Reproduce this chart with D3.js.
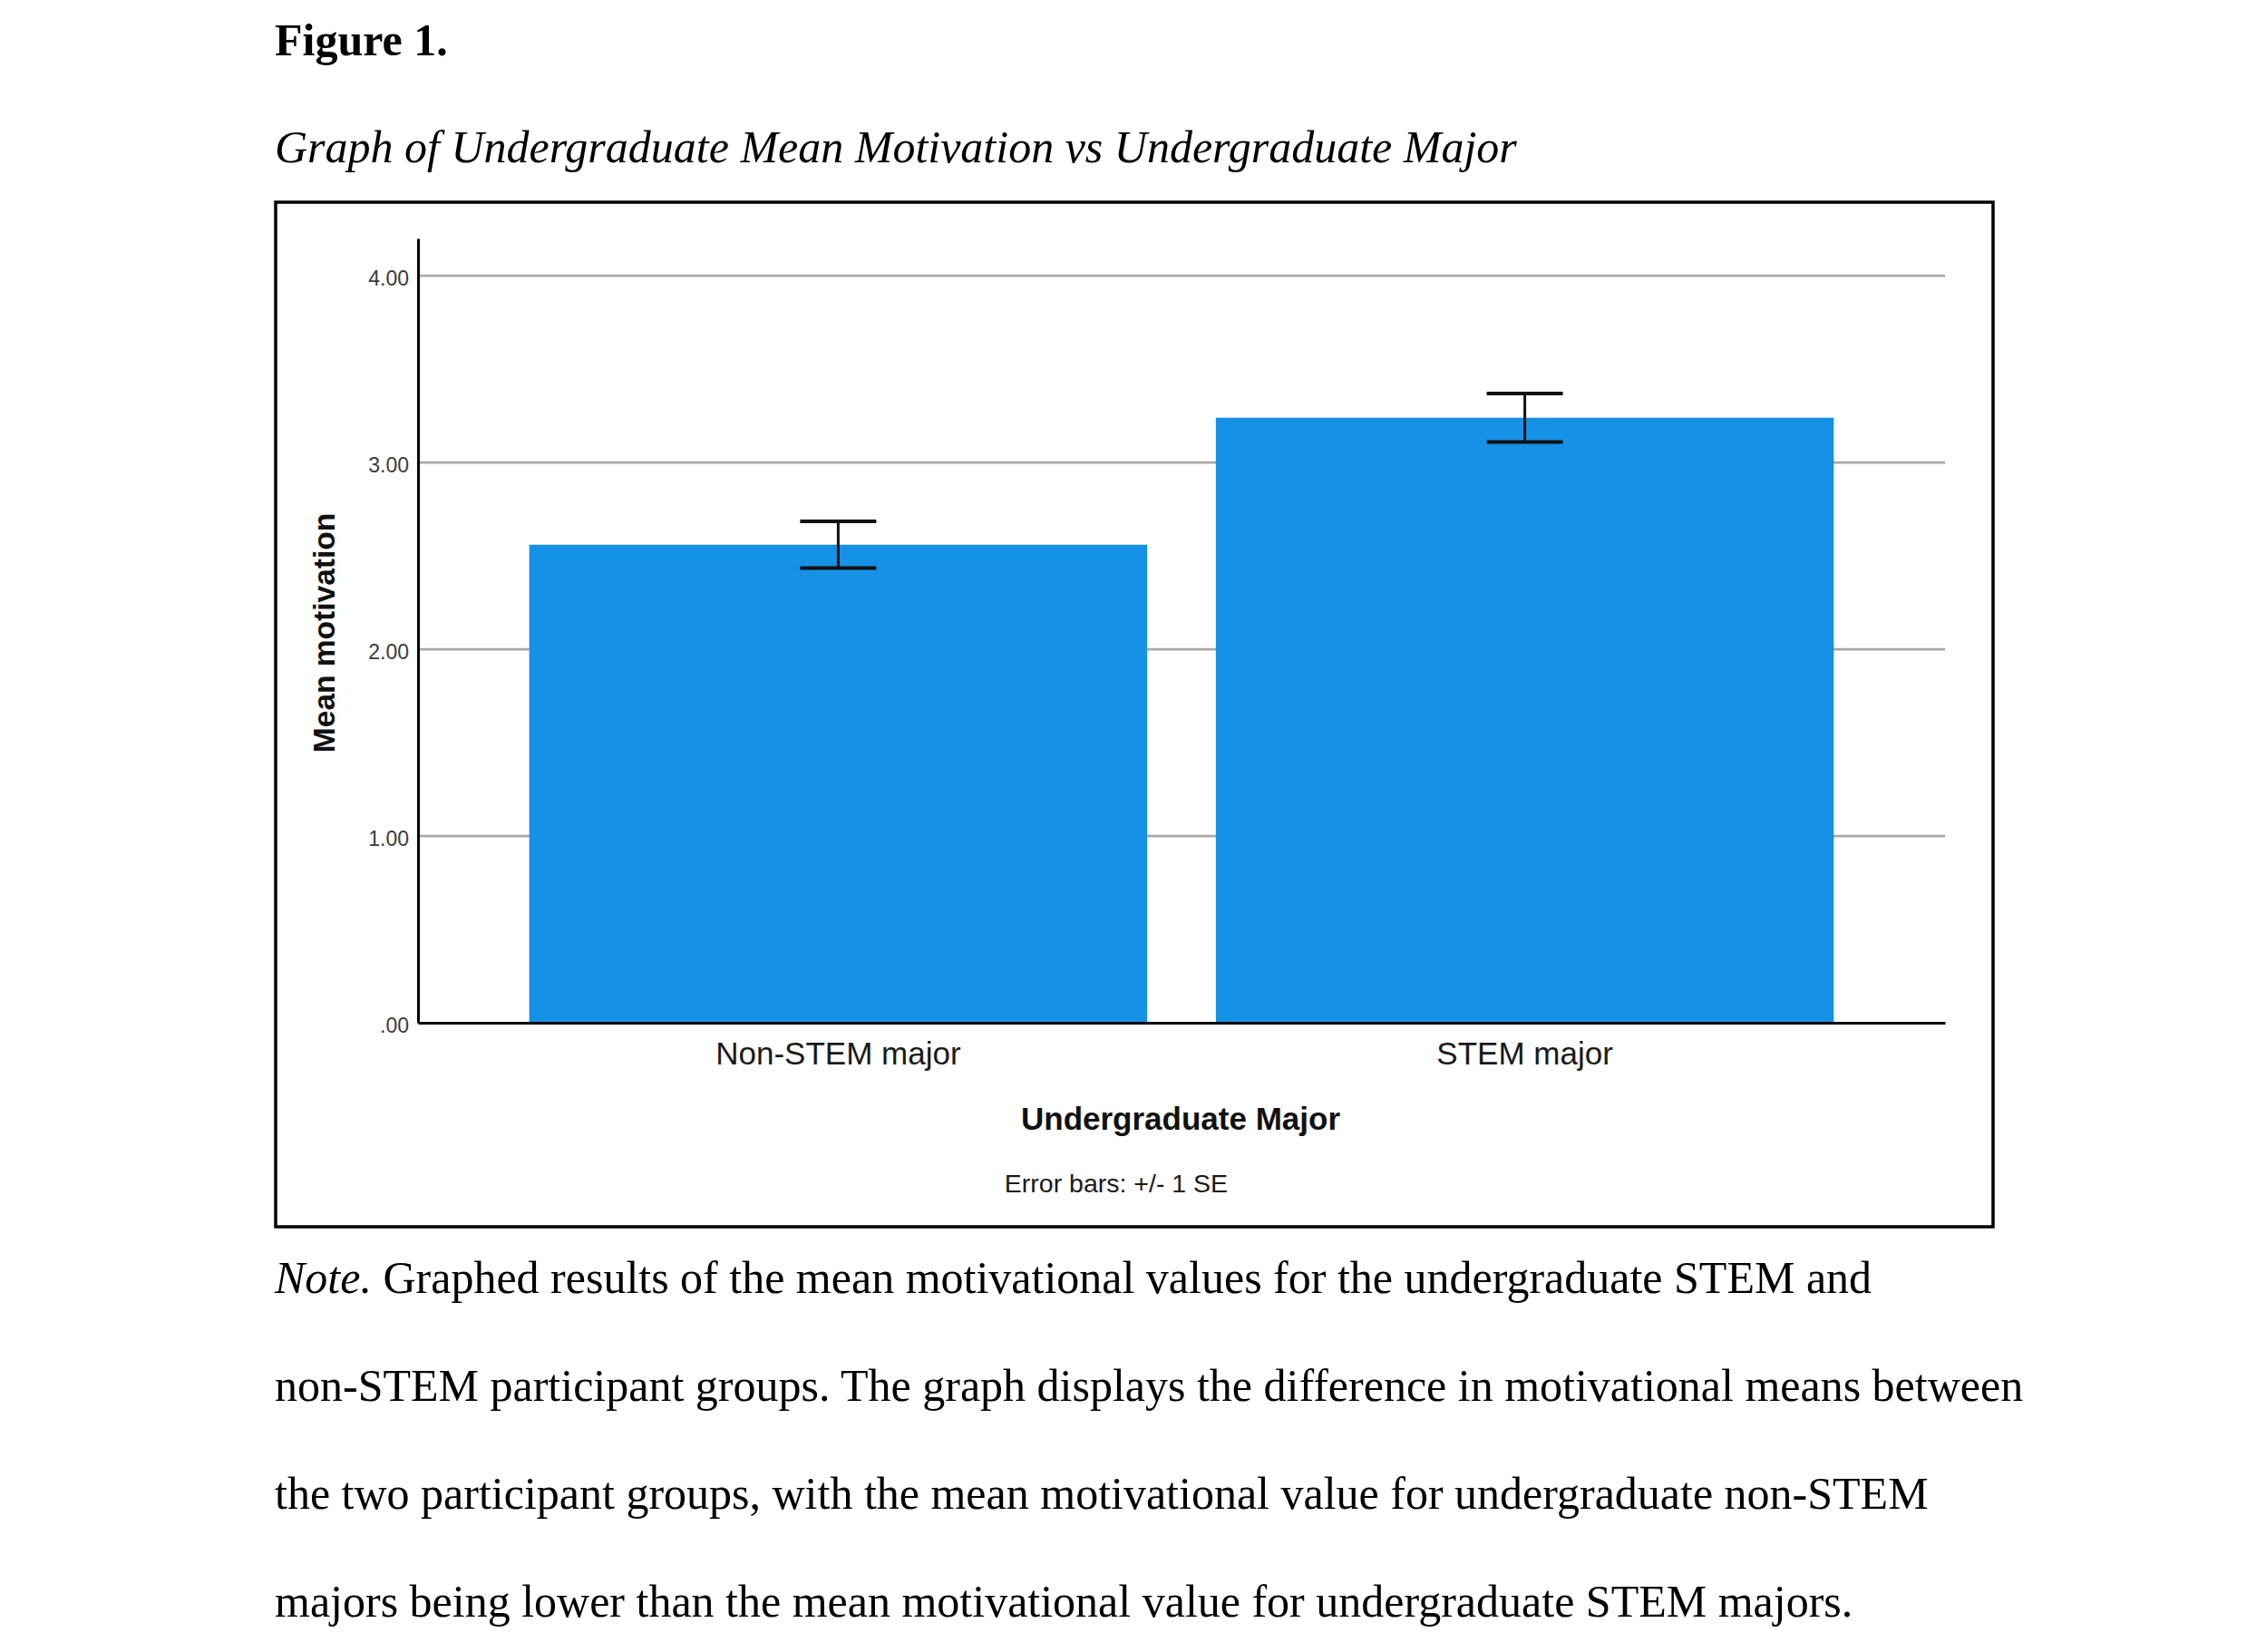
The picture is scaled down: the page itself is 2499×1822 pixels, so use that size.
<!DOCTYPE html>
<html>
<head>
<meta charset="utf-8">
<script src="https://cdn.jsdelivr.net/npm/d3@7"></script>
<style>
    body { margin: 0; background: #fff; }
    svg { display: block; }
</style>
</head>
<body>
<div id="figure"></div>
<script>
// values
const categories = ["Non-STEM major", "STEM major"];
const means = [2.56, 3.24];
const stdErrors = [0.125, 0.13];
const yTicks = [0, 1, 2, 3, 4];
const yTickLabels = [".00", "1.00", "2.00", "3.00", "4.00"];
const noteLines = [
    "Graphed results of the mean motivational values for the undergraduate STEM and",
    "non-STEM participant groups. The graph displays the difference in motivational means between",
    "the two participant groups, with the mean motivational value for undergraduate non-STEM",
    "majors being lower than the mean motivational value for undergraduate STEM majors."
];

let pageWidth = 2499, pageHeight = 1822;
let serif = "'Liberation Serif', 'Times New Roman', serif";
let sans = "'Liberation Sans', Arial, sans-serif";

let svg = d3.select("#figure").append("svg")
    .attr("width", pageWidth)
    .attr("height", pageHeight);

// document heading
svg.append("text")
    .attr("x", 303).attr("y", 61)
    .style("font-family", serif).style("font-size", "50px").style("font-weight", "bold")
    .text("Figure 1.");

svg.append("text")
    .attr("x", 303).attr("y", 179)
    .style("font-family", serif).style("font-size", "50px").style("font-style", "italic")
    .text("Graph of Undergraduate Mean Motivation vs Undergraduate Major");

// frame around the chart image
svg.append("rect")
    .attr("x", 304).attr("y", 223)
    .attr("width", 1894).attr("height", 1130)
    .attr("fill", "none")
    .attr("stroke", "#000")
    .attr("stroke-width", 3.5);

// plot area
let plot = {left: 461, right: 2145, top: 263, bottom: 1128};

let x = d3.scaleBand()
    .domain(categories)
    .range([plot.left, plot.right])
    .paddingInner(0.1)
    .paddingOuter(0.162);

let y = d3.scaleLinear()
    .domain([0, 4.2])
    .range([plot.bottom, plot.top]);

// gridlines
svg.append("g")
    .selectAll("line")
    .data(yTicks.filter((d) => d > 0))
    .enter()
    .append("line")
    .attr("x1", plot.left).attr("x2", plot.right)
    .attr("y1", (d) => y(d)).attr("y2", (d) => y(d))
    .attr("stroke", "#a9a9a9")
    .attr("stroke-width", 2.7);

// bars
svg.append("g")
    .selectAll("rect")
    .data(means)
    .enter()
    .append("rect")
    .attr("x", (d, i) => x(categories[i]))
    .attr("width", x.bandwidth())
    .attr("y", (d) => y(d))
    .attr("height", (d) => y(0) - y(d))
    .attr("fill", "#1591e5");

// error bars, +/- 1 SE
let capHalf = 42;
let err = svg.append("g")
    .selectAll("g")
    .data(means)
    .enter()
    .append("g")
    .attr("stroke", "#111");

err.append("line")
    .attr("x1", (d, i) => x(categories[i]) + x.bandwidth() / 2)
    .attr("x2", (d, i) => x(categories[i]) + x.bandwidth() / 2)
    .attr("y1", (d, i) => y(d + stdErrors[i]))
    .attr("y2", (d, i) => y(d - stdErrors[i]))
    .attr("stroke-width", 3);

err.append("line")
    .attr("x1", (d, i) => x(categories[i]) + x.bandwidth() / 2 - capHalf)
    .attr("x2", (d, i) => x(categories[i]) + x.bandwidth() / 2 + capHalf)
    .attr("y1", (d, i) => y(d + stdErrors[i]))
    .attr("y2", (d, i) => y(d + stdErrors[i]))
    .attr("stroke-width", 4);

err.append("line")
    .attr("x1", (d, i) => x(categories[i]) + x.bandwidth() / 2 - capHalf)
    .attr("x2", (d, i) => x(categories[i]) + x.bandwidth() / 2 + capHalf)
    .attr("y1", (d, i) => y(d - stdErrors[i]))
    .attr("y2", (d, i) => y(d - stdErrors[i]))
    .attr("stroke-width", 4);

// y axis
let yAxis = svg.append("g")
    .attr("transform", "translate(" + plot.left + ",0)")
    .call(d3.axisLeft(y)
        .tickValues(yTicks)
        .tickFormat((d, i) => yTickLabels[i])
        .tickSize(0)
        .tickSizeOuter(0)
        .tickPadding(10));

yAxis.select(".domain").attr("stroke", "#000").attr("stroke-width", 3);
yAxis.selectAll("text")
    .attr("dy", "0.45em")
    .style("font-family", sans)
    .style("font-size", "23px")
    .attr("fill", "#3b3b3b");

// x axis
let xAxis = svg.append("g")
    .attr("transform", "translate(0," + plot.bottom + ")")
    .call(d3.axisBottom(x).tickSize(0).tickSizeOuter(0).tickPadding(21));

xAxis.select(".domain").attr("stroke", "#000").attr("stroke-width", 3);
xAxis.selectAll("text")
    .style("font-family", sans)
    .style("font-size", "35px")
    .attr("fill", "#1a1a1a");

// axis titles
svg.append("text")
    .attr("transform", "translate(369,698) rotate(-90)")
    .attr("text-anchor", "middle")
    .style("font-family", sans).style("font-size", "33.5px").style("font-weight", "bold")
    .attr("fill", "#111")
    .text("Mean motivation");

svg.append("text")
    .attr("x", 1302).attr("y", 1246)
    .attr("text-anchor", "middle")
    .style("font-family", sans).style("font-size", "35px").style("font-weight", "bold")
    .attr("fill", "#111")
    .text("Undergraduate Major");

svg.append("text")
    .attr("x", 1231).attr("y", 1315)
    .attr("text-anchor", "middle")
    .style("font-family", sans).style("font-size", "28.5px")
    .attr("fill", "#1a1a1a")
    .text("Error bars: +/- 1 SE");

// note under the figure
let note = svg.append("g")
    .style("font-family", serif)
    .style("font-size", "50px");

note.selectAll("text")
    .data(noteLines)
    .enter()
    .append("text")
    .attr("x", 303)
    .attr("y", (d, i) => 1426 + i * 119)
    .each(function(d, i) {
        let t = d3.select(this);
        if (i === 0) {
            t.append("tspan").style("font-style", "italic").text("Note.");
            t.append("tspan").text(" " + d);
        } else {
            t.text(d);
        }
    });
</script>
</body>
</html>
